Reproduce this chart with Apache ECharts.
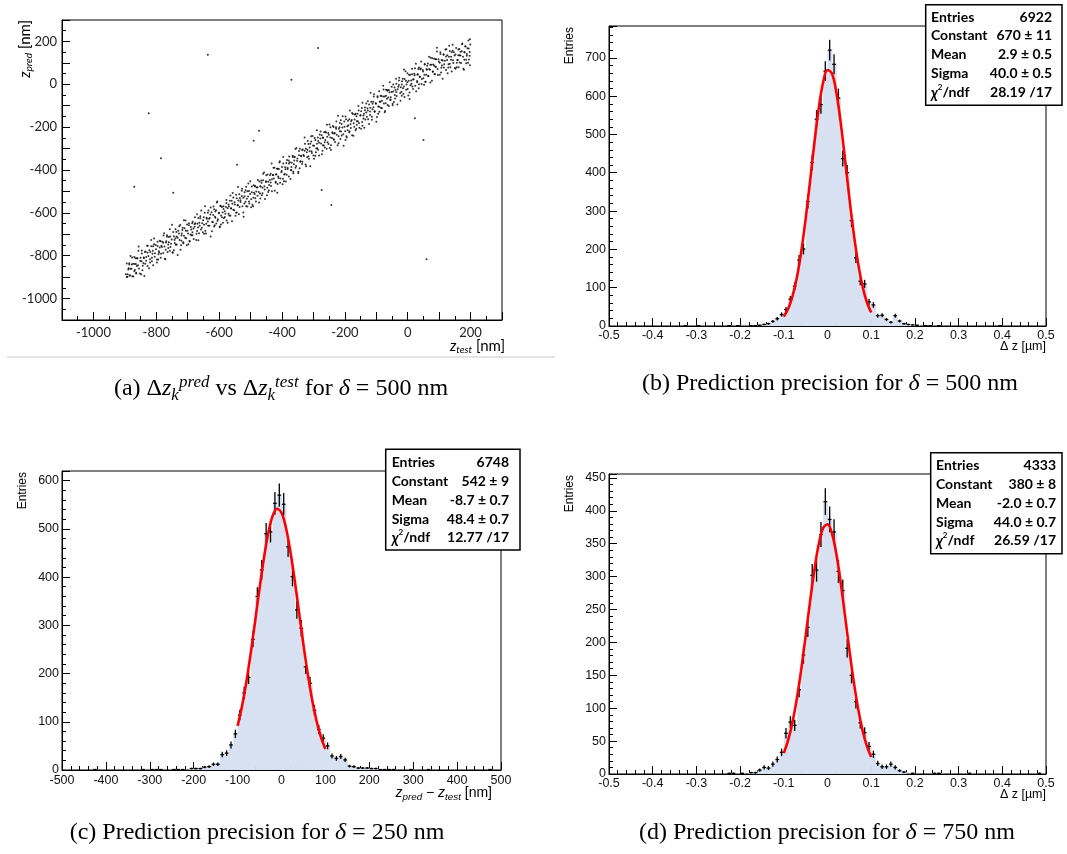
<!DOCTYPE html>
<html><head><meta charset="utf-8">
<script src="https://cdn.jsdelivr.net/npm/echarts@6/dist/echarts.min.js"></script>
<style>html,body{margin:0;padding:0;background:#fff}#c{width:1067px;height:854px}</style>
</head><body><div id="c"></div>
<script>
// ---------------- DATA ----------------
// (a) scatter: z_test [nm], z_pred [nm]
const scatterPts = [
[-894,-898],[-891,-887],[-889,-864],[-886,-835],[-885,-893],[-882,-861],[-878,-841],[-877,-808],
[-873,-897],[-870,-873],[-869,-839],[-866,-812],[-864,-883],[-862,-848],[-860,-813],[-857,-777],
[-855,-860],[-851,-825],[-848,-887],[-846,-790],[-844,-868],[-841,-835],[-839,-812],[-836,-783],
[-835,-838],[-832,-806],[-828,-786],[-827,-753],[-823,-859],[-820,-817],[-819,-783],[-816,-756],
[-814,-826],[-812,-791],[-810,-756],[-807,-720],[-805,-805],[-801,-770],[-798,-832],[-796,-735],
[-794,-818],[-791,-785],[-789,-762],[-786,-733],[-785,-791],[-782,-759],[-778,-739],[-777,-706],
[-773,-814],[-770,-772],[-769,-738],[-766,-711],[-764,-783],[-762,-748],[-760,-713],[-757,-677],
[-755,-759],[-751,-724],[-748,-786],[-746,-689],[-744,-774],[-741,-741],[-739,-718],[-736,-689],
[-735,-748],[-732,-716],[-728,-696],[-727,-663],[-723,-772],[-720,-730],[-719,-696],[-716,-669],
[-714,-742],[-712,-707],[-710,-672],[-707,-636],[-705,-719],[-701,-684],[-698,-746],[-696,-649],
[-694,-734],[-691,-701],[-689,-678],[-686,-649],[-685,-705],[-682,-673],[-678,-653],[-677,-620],
[-673,-727],[-670,-685],[-669,-651],[-666,-624],[-664,-695],[-662,-660],[-660,-625],[-657,-589],
[-655,-670],[-651,-635],[-648,-697],[-646,-600],[-644,-684],[-641,-651],[-639,-628],[-636,-599],
[-635,-660],[-632,-628],[-628,-608],[-627,-575],[-623,-686],[-620,-644],[-619,-610],[-616,-583],
[-614,-658],[-612,-623],[-610,-588],[-607,-552],[-605,-637],[-601,-602],[-598,-664],[-596,-567],
[-594,-654],[-591,-621],[-589,-598],[-586,-569],[-585,-625],[-582,-593],[-578,-573],[-577,-540],
[-573,-646],[-570,-604],[-569,-570],[-566,-543],[-564,-613],[-562,-578],[-560,-543],[-557,-507],
[-555,-586],[-551,-551],[-548,-613],[-546,-516],[-544,-598],[-541,-565],[-539,-542],[-536,-513],
[-535,-573],[-532,-541],[-528,-521],[-527,-488],[-523,-598],[-520,-556],[-519,-522],[-516,-495],
[-514,-569],[-512,-534],[-510,-499],[-507,-463],[-505,-547],[-501,-512],[-498,-574],[-496,-477],
[-494,-562],[-491,-529],[-489,-506],[-486,-477],[-485,-532],[-482,-500],[-478,-480],[-477,-447],
[-473,-552],[-470,-510],[-469,-476],[-466,-449],[-464,-518],[-462,-483],[-460,-448],[-457,-412],
[-455,-491],[-451,-456],[-448,-518],[-446,-421],[-444,-503],[-441,-470],[-439,-447],[-436,-418],
[-435,-475],[-432,-443],[-428,-423],[-427,-390],[-423,-497],[-420,-455],[-419,-421],[-416,-394],
[-414,-465],[-412,-430],[-410,-395],[-407,-359],[-405,-440],[-401,-405],[-398,-467],[-396,-370],
[-394,-452],[-391,-419],[-389,-396],[-386,-367],[-385,-422],[-382,-390],[-378,-370],[-377,-337],
[-373,-442],[-370,-400],[-369,-366],[-366,-339],[-364,-408],[-362,-373],[-360,-338],[-357,-302],
[-355,-381],[-351,-346],[-348,-408],[-346,-311],[-344,-392],[-341,-359],[-339,-336],[-336,-307],
[-335,-362],[-332,-330],[-328,-310],[-327,-277],[-323,-382],[-320,-340],[-319,-306],[-316,-279],
[-314,-348],[-312,-313],[-310,-278],[-307,-242],[-305,-321],[-301,-286],[-298,-348],[-296,-251],
[-294,-333],[-291,-300],[-289,-277],[-286,-248],[-285,-305],[-282,-273],[-278,-253],[-277,-220],
[-273,-327],[-270,-285],[-269,-251],[-266,-224],[-264,-295],[-262,-260],[-260,-225],[-257,-189],
[-255,-270],[-251,-235],[-248,-297],[-246,-200],[-244,-284],[-241,-251],[-239,-228],[-236,-199],
[-235,-259],[-232,-227],[-228,-207],[-227,-174],[-223,-284],[-220,-242],[-219,-208],[-216,-181],
[-214,-255],[-212,-220],[-210,-185],[-207,-149],[-205,-233],[-201,-198],[-198,-260],[-196,-163],
[-194,-248],[-191,-215],[-189,-192],[-186,-163],[-185,-219],[-182,-187],[-178,-167],[-177,-134],
[-173,-240],[-170,-198],[-169,-164],[-166,-137],[-164,-207],[-162,-172],[-160,-137],[-157,-101],
[-155,-181],[-151,-146],[-148,-208],[-146,-111],[-144,-193],[-141,-160],[-139,-137],[-136,-108],
[-135,-164],[-132,-132],[-128,-112],[-127,-79],[-123,-185],[-120,-143],[-119,-109],[-116,-82],
[-114,-152],[-112,-117],[-110,-82],[-107,-46],[-105,-126],[-101,-91],[-98,-153],[-96,-56],
[-94,-138],[-91,-105],[-89,-82],[-86,-53],[-85,-109],[-82,-77],[-78,-57],[-77,-24],
[-73,-130],[-70,-88],[-69,-54],[-66,-27],[-64,-97],[-62,-62],[-60,-27],[-57,9],
[-55,-71],[-51,-36],[-48,-98],[-46,-1],[-44,-83],[-41,-50],[-39,-27],[-36,2],
[-35,-55],[-32,-23],[-28,-3],[-27,30],[-23,-77],[-20,-35],[-19,-1],[-16,26],
[-14,-45],[-12,-10],[-10,25],[-7,61],[-5,-25],[-1,10],[2,-52],[4,45],
[6,-38],[9,-5],[11,18],[14,47],[15,-10],[18,22],[22,42],[23,75],
[27,-32],[30,10],[31,44],[34,71],[36,0],[38,35],[40,70],[43,106],
[45,25],[49,60],[52,-2],[54,95],[56,12],[59,45],[61,68],[64,97],
[65,39],[68,71],[72,91],[73,124],[77,16],[80,58],[81,92],[84,119],
[86,47],[88,82],[90,117],[93,153],[95,71],[99,106],[102,44],[104,141],
[106,55],[109,88],[111,111],[114,140],[115,78],[118,110],[122,130],[123,163],
[127,52],[130,94],[131,128],[134,155],[136,79],[138,114],[140,149],[143,185],
[145,99],[149,134],[152,72],[154,169],[156,80],[159,113],[161,136],[164,165],
[165,102],[168,134],[172,154],[173,187],[177,73],[180,115],[181,149],[184,176],
[186,98],[188,133],[190,168],[193,204],[195,116],[197,151],[198,89],[199,186]
];
const scatterPts2 = [
[-897,-886],[-894,-836],[-892,-899],[-888,-858],[-886,-841],[-883,-891],[-882,-801],[-879,-861],
[-876,-896],[-874,-837],[-870,-806],[-868,-867],[-865,-839],[-864,-880],[-861,-811],[-858,-844],
[-856,-757],[-852,-883],[-850,-809],[-847,-826],[-846,-776],[-843,-847],[-840,-808],[-838,-895],
[-834,-780],[-832,-824],[-829,-753],[-828,-848],[-825,-801],[-822,-775],[-820,-832],[-816,-727],
[-814,-810],[-811,-777],[-810,-845],[-807,-746],[-804,-788],[-802,-750],[-798,-818],[-796,-755],
[-793,-793],[-792,-779],[-789,-730],[-786,-810],[-784,-754],[-780,-735],[-778,-787],[-775,-695],
[-774,-757],[-771,-816],[-768,-733],[-766,-704],[-762,-764],[-760,-737],[-757,-777],[-756,-710],
[-753,-744],[-750,-656],[-748,-784],[-744,-709],[-742,-727],[-739,-676],[-738,-749],[-735,-710],
[-732,-797],[-730,-684],[-726,-727],[-724,-657],[-721,-751],[-720,-706],[-717,-680],[-714,-737],
[-712,-634],[-708,-716],[-706,-684],[-703,-751],[-702,-654],[-699,-696],[-696,-658],[-694,-731],
[-690,-666],[-688,-705],[-685,-690],[-684,-642],[-681,-722],[-678,-665],[-676,-648],[-672,-698],
[-670,-607],[-667,-668],[-666,-728],[-663,-646],[-660,-616],[-658,-678],[-654,-649],[-652,-690],
[-649,-621],[-648,-656],[-645,-569],[-642,-696],[-640,-623],[-636,-640],[-634,-589],[-631,-660],
[-630,-624],[-627,-710],[-624,-597],[-622,-641],[-618,-570],[-616,-664],[-613,-618],[-612,-594],
[-609,-650],[-606,-547],[-604,-630],[-600,-600],[-598,-667],[-595,-568],[-594,-612],[-591,-573],
[-588,-646],[-586,-582],[-582,-619],[-580,-604],[-577,-554],[-576,-636],[-573,-579],[-570,-561],
[-568,-612],[-564,-519],[-562,-580],[-559,-639],[-558,-558],[-555,-528],[-552,-588],[-550,-561],
[-546,-599],[-544,-532],[-541,-565],[-540,-479],[-537,-606],[-534,-531],[-532,-549],[-528,-497],
[-526,-569],[-523,-530],[-522,-618],[-519,-504],[-516,-548],[-514,-478],[-510,-570],[-508,-524],
[-505,-498],[-504,-556],[-501,-453],[-498,-536],[-496,-504],[-492,-569],[-490,-471],[-487,-512],
[-486,-475],[-483,-547],[-480,-482],[-478,-520],[-474,-503],[-472,-454],[-469,-533],[-468,-477],
[-465,-459],[-462,-509],[-460,-418],[-456,-476],[-454,-535],[-451,-452],[-450,-424],[-447,-483],
[-444,-455],[-442,-495],[-438,-424],[-436,-458],[-433,-370],[-432,-499],[-429,-423],[-426,-440],
[-424,-389],[-420,-459],[-418,-420],[-415,-506],[-414,-394],[-411,-437],[-408,-365],[-406,-459],
[-402,-411],[-400,-386],[-397,-441],[-396,-339],[-393,-421],[-390,-387],[-388,-454],[-384,-353],
[-382,-395],[-379,-356],[-378,-430],[-375,-364],[-372,-401],[-370,-386],[-366,-334],[-364,-415],
[-361,-356],[-360,-340],[-357,-389],[-354,-297],[-352,-357],[-348,-414],[-346,-331],[-343,-301],
[-342,-362],[-339,-334],[-336,-372],[-334,-304],[-330,-335],[-328,-248],[-325,-374],[-324,-301],
[-321,-317],[-318,-265],[-316,-336],[-312,-295],[-310,-382],[-307,-267],[-306,-312],[-303,-241],
[-300,-332],[-298,-287],[-294,-260],[-292,-317],[-289,-214],[-288,-298],[-285,-265],[-282,-332],
[-280,-234],[-276,-276],[-274,-238],[-271,-310],[-270,-248],[-267,-286],[-264,-270],[-262,-222],
[-258,-301],[-256,-245],[-253,-227],[-252,-279],[-249,-188],[-246,-248],[-244,-307],[-240,-224],
[-238,-195],[-235,-256],[-234,-230],[-231,-269],[-228,-201],[-226,-235],[-222,-147],[-220,-275],
[-217,-200],[-216,-219],[-213,-168],[-210,-239],[-208,-202],[-204,-287],[-202,-174],[-199,-219],
[-198,-150],[-195,-243],[-192,-196],[-190,-170],[-186,-225],[-184,-122],[-181,-204],[-180,-173],
[-177,-238],[-174,-139],[-172,-182],[-168,-141],[-166,-214],[-163,-149],[-162,-189],[-159,-172],
[-156,-122],[-154,-203],[-150,-144],[-148,-126],[-145,-176],[-144,-86],[-141,-146],[-138,-203],
[-136,-121],[-132,-90],[-130,-151],[-127,-122],[-126,-163],[-123,-94],[-120,-127],[-118,-39],
[-114,-165],[-112,-91],[-109,-107],[-108,-57],[-105,-128],[-102,-89],[-100,-175],[-96,-60],
[-94,-104],[-91,-33],[-90,-128],[-87,-81],[-84,-55],[-82,-112],[-78,-7],[-76,-90],
[-73,-57],[-72,-125],[-69,-26],[-66,-68],[-64,-30],[-60,-101],[-58,-37],[-55,-75],
[-54,-61],[-51,-11],[-48,-91],[-46,-34],[-42,-15],[-40,-66],[-37,26],[-36,-36],
[-33,-94],[-30,-11],[-28,18],[-24,-41],[-22,-14],[-19,-53],[-18,14],[-15,-19],
[-12,69],[-10,-59],[-6,17],[-4,-1],[-1,51],[0,-22],[3,17],[6,-69],
[8,44],[12,2],[14,72],[17,-22],[18,23],[21,49],[24,-7],[26,96],
[30,15],[32,47],[35,-19],[36,78],[39,35],[42,74],[44,1],[48,67],
[50,28],[53,44],[54,92],[57,12],[60,70],[62,86],[66,37],[68,128],
[71,68],[72,8],[75,91],[78,121],[80,60],[84,88],[86,48],[89,117],
[90,82],[93,170],[96,43],[98,117],[102,100],[104,150],[107,77],[108,113],
[111,26],[114,138],[116,93],[120,162],[122,67],[125,113],[126,136],[129,78],
[132,180],[134,96],[138,128],[140,60],[143,157],[144,112],[147,150],[150,76],
[152,139],[156,100],[158,113],[161,162],[162,79],[165,135],[168,152],[170,99],
[174,190],[176,128],[179,68],[180,149],[183,177],[186,115],[188,141],[192,101],
[194,167],[197,133],[198,210]
];
const scatterOutliers = [[-636,138],[-285,169],[-370,21],[-824,-135],[-785,-345],[-870,-478],[-746,-506],
[-243,-563],[60,-817],[50,-260],[23,-158],[-473,-217],[-490,-263],[-543,-376],[-274,-493]];

// (b) delta = 500 nm, 100 bins in [-0.5, 0.5] um
const countsB = [
0,0,0,0,0,0,0,0,0,0,
0,0,0,0,0,0,0,1,0,0,
1,0,0,0,0,0,0,1,0,1,
0,0,1,1,2,4,6,12,19,30,
43,70,104,172,201,325,427,540,578,665,
720,683,595,437,400,275,178,117,110,63,
55,27,28,17,10,27,13,6,4,3,
2,0,1,1,0,1,0,0,0,0,
0,0,0,0,0,0,0,0,0,1,
0,0,0,0,0,0,0,0,0,0];
// (c) delta = 250 nm, 100 bins in [-500, 500] nm
const countsC = [
0,0,0,0,0,0,0,1,0,0,
0,0,0,0,0,0,0,0,1,0,
1,1,1,0,0,1,1,1,0,3,
3,3,6,7,12,12,32,35,52,75,
114,160,192,271,360,415,490,494,553,570,
551,463,401,332,294,214,180,124,84,66,
50,29,24,28,21,8,7,4,4,4,
3,3,1,1,1,1,0,0,0,1,
0,0,0,1,0,0,0,0,0,0,
0,0,0,0,0,0,0,1,0,0];
// (d) delta = 750 nm, 100 bins in [-0.5, 0.5] um
const countsD = [
0,0,0,0,0,0,0,0,0,0,
0,0,0,0,0,0,0,0,0,0,
0,0,0,0,0,0,0,1,1,0,
1,0,2,2,6,10,9,15,22,33,
62,79,74,128,181,223,302,310,364,414,
387,368,308,279,191,150,110,78,63,42,
30,16,11,11,15,10,5,3,0,1,
0,0,0,0,1,1,0,0,0,0,
0,0,1,0,0,0,0,0,0,0,
0,0,0,0,0,0,0,0,1,0];

// Gaussian fit curves (red)
const fitXum = [-0.10,-0.09,-0.08,-0.07,-0.06,-0.05,-0.04,-0.03,-0.02,-0.01,0,0.01,0.02,0.03,0.04,0.05,0.06,0.07,0.08,0.09,0.10];
const fitYb = [24.5,45.2,78.2,127.3,194.6,279.5,377,477.7,568.7,636,668.2,659.5,611.5,532.6,435.8,334.9,241.9,164.1,104.5,62.6,35.2];
const fitXnm = [-100,-90,-80,-70,-60,-50,-40,-30,-20,-10,0,10,20,30,40,50,60,70,80,90,100];
const fitYc = [91.5,132.2,183.1,243.0,309.0,376.6,439.7,492.0,527.4,541.8,533.3,503.0,454.6,393.7,326.7,259.8,197.9,144.5,101.1,67.8,43.5];
const fitYd = [31.8,51.4,79.0,115.1,159.4,209.6,261.7,310.3,349.5,373.8,379.6,366.1,335.4,291.7,241.0,189.0,140.8,99.6,66.9,42.7,25.9];

// stats boxes
const statLabels = ['Entries','Constant','Mean','Sigma','χ2/ndf'];
const statsB = ['6922','670 ± 11','2.9 ± 0.5','40.0 ± 0.5','28.19 /17'];
const statsC = ['6748','542 ± 9','-8.7 ± 0.7','48.4 ± 0.7','12.77 /17'];
const statsD = ['4333','380 ± 8','-2.0 ± 0.7','44.0 ± 0.7','26.59 /17'];

// ---------------- CHART ----------------
const SANS = '"Liberation Sans", Arial, sans-serif';
const CAL = 'Lato, "Open Sans", sans-serif';
const SERIF = '"Liberation Serif", "Times New Roman", serif';

const chart = echarts.init(document.getElementById('c'), null, {renderer: 'canvas'});

function axis(gi, o, lab) {
  return Object.assign({
    gridIndex: gi, type: 'value',
    axisLine: {show: true, onZero: false, lineStyle: {color: '#000', width: 1}},
    axisTick: {show: true, inside: true, length: 8, lineStyle: {color: '#000', width: 1}},
    minorTick: {show: true, splitNumber: 5, length: 4, lineStyle: {color: '#000', width: 1}},
    splitLine: {show: false}, minorSplitLine: {show: false},
    axisLabel: Object.assign({color: '#111', fontFamily: SANS, fontSize: 12.5, margin: 3}, lab)
  }, o);
}
const fmt1 = v => Math.abs(v) < 1e-9 ? '0' : v.toFixed(1);
const fmtA = v => (Math.round(v) % 200 === 0) ? String(Math.round(v)) : '';

function histData(counts, lo, w) { return counts.map((v, i) => [lo + (i + 0.5) * w, v]); }
function histFill(gi, counts, lo, w) {
  return {
    type: 'custom', xAxisIndex: gi, yAxisIndex: gi, silent: true, z: 1,
    data: histData(counts, lo, w), encode: {x: 0, y: 1},
    renderItem(p, api) {
      const c = api.value(0), v = api.value(1);
      if (!v) return null;
      const a = api.coord([c - w / 2, v]), b = api.coord([c + w / 2, 0]);
      return {type: 'rect', shape: {x: a[0], y: a[1], width: b[0] - a[0] + 0.6, height: b[1] - a[1]},
        style: {fill: '#d8e1f1'}};
    }
  };
}
function histErr(gi, counts, lo, w) {
  return {
    type: 'custom', xAxisIndex: gi, yAxisIndex: gi, silent: true, z: 3,
    data: histData(counts, lo, w), encode: {x: 0, y: 1},
    renderItem(p, api) {
      const c = api.value(0), v = api.value(1);
      if (!v) return null;
      const e = Math.sqrt(v);
      const l = api.coord([c - w * 0.42, v]), r = api.coord([c + w * 0.42, v]);
      const t = api.coord([c, v + e]), b = api.coord([c, Math.max(v - e, 0)]);
      const st = {stroke: '#000', lineWidth: 1.3};
      return {type: 'group', children: [
        {type: 'line', shape: {x1: l[0], y1: l[1], x2: r[0], y2: r[1]}, style: st},
        {type: 'line', shape: {x1: t[0], y1: t[1], x2: b[0], y2: b[1]}, style: st}
      ]};
    }
  };
}
function fitLine(gi, xs, ys) {
  return {type: 'line', xAxisIndex: gi, yAxisIndex: gi, z: 5, silent: true, smooth: 0.35, showSymbol: false,
    data: xs.map((x, i) => [x, ys[i]]), lineStyle: {color: '#ff0000', width: 2.6}};
}

function txt(x, y, text, font, align, vAlign, extra) {
  return Object.assign({type: 'text', x: x, y: y, z: 50, silent: true,
    style: {text: text, font: font, fill: '#000', align: align, textAlign: align,
      verticalAlign: vAlign, textVerticalAlign: vAlign}}, extra || {});
}
function richTxt(x, y, text, rich, align, rotation) {
  const el = {type: 'text', x: x, y: y, z: 50, silent: true,
    style: {text: text, rich: rich, fill: '#000', align: align, textAlign: align,
      verticalAlign: 'middle', textVerticalAlign: 'middle'}};
  if (rotation) el.rotation = rotation;
  return el;
}
function statsBox(x0, y0, x1, y1, labX, valX, rowsY, vals) {
  const els = [{type: 'rect', z: 40, silent: true, shape: {x: x0, y: y0, width: x1 - x0, height: y1 - y0},
    style: {fill: '#fff', stroke: '#000', lineWidth: 1.5}}];
  const F = 'bold 14px ' + CAL;
  statLabels.forEach((lab, i) => {
    if (lab === 'χ2/ndf') {
      els.push(richTxt(labX, rowsY[i], '{c|χ}{s|2}{b|/ndf}', {
        c: {fontFamily: CAL, fontWeight: 'bold', fontStyle: 'italic', fontSize: 15, lineHeight: 18},
        s: {fontFamily: CAL, fontWeight: 'bold', fontSize: 8, lineHeight: 10, verticalAlign: 'top'},
        b: {fontFamily: CAL, fontWeight: 'bold', fontSize: 14, lineHeight: 18}}, 'left'));
    } else {
      els.push(txt(labX, rowsY[i], lab, F, 'left', 'middle'));
    }
    els.push(txt(valX, rowsY[i], vals[i], F, 'right', 'middle'));
  });
  return els;
}

const capRich = {
  n: {fontFamily: SERIF, fontSize: 24, lineHeight: 30, color: '#000'},
  i: {fontFamily: SERIF, fontSize: 24, fontStyle: 'italic', lineHeight: 30, color: '#000'},
  sb: {fontFamily: SERIF, fontSize: 17, fontStyle: 'italic', lineHeight: 19, verticalAlign: 'bottom', color: '#000'},
  sp: {fontFamily: SERIF, fontSize: 17, fontStyle: 'italic', lineHeight: 13, verticalAlign: 'top', color: '#000'}
};
const sansRich = (sz) => ({
  i: {fontFamily: SANS, fontSize: sz, fontStyle: 'italic', lineHeight: 18, color: '#111'},
  s: {fontFamily: SANS, fontSize: sz * 0.7, fontStyle: 'italic', lineHeight: 10, verticalAlign: 'bottom', color: '#111'},
  n: {fontFamily: SANS, fontSize: sz, lineHeight: 18, color: '#111'}
});
const calRich = {
  i: {fontFamily: CAL, fontSize: 15, fontStyle: 'italic', lineHeight: 18, color: '#111'},
  s: {fontFamily: CAL, fontSize: 10, fontStyle: 'italic', lineHeight: 10, verticalAlign: 'bottom', color: '#111'},
  n: {fontFamily: CAL, fontSize: 15, lineHeight: 18, color: '#111'}
};

const gridBase = {show: true, borderColor: '#000', borderWidth: 1, backgroundColor: 'transparent', containLabel: false};

const option = {
  animation: false,
  backgroundColor: '#fff',
  grid: [
    Object.assign({left: 62, top: 20, width: 440, height: 300}, gridBase),
    Object.assign({left: 609, top: 26, width: 437, height: 300}, gridBase),
    Object.assign({left: 62, top: 471, width: 439, height: 299}, gridBase),
    Object.assign({left: 609, top: 474, width: 437, height: 300}, gridBase)
  ],
  xAxis: [
    axis(0, {min: -1100, max: 300, interval: 100, minorTick: {show: true, splitNumber: 2, length: 4, lineStyle: {color: '#000'}}},
      {formatter: fmtA, fontFamily: CAL, fontSize: 13, margin: 6, color: '#222'}),
    axis(1, {min: -0.5, max: 0.5, interval: 0.1}, {formatter: fmt1, margin: 3}),
    axis(2, {min: -500, max: 500, interval: 100}, {margin: 4}),
    axis(3, {min: -0.5, max: 0.5, interval: 0.1}, {formatter: fmt1, margin: 3})
  ],
  yAxis: [
    axis(0, {min: -1100, max: 300, interval: 100, minorTick: {show: true, splitNumber: 2, length: 4, lineStyle: {color: '#000'}}},
      {formatter: fmtA, fontFamily: CAL, fontSize: 13, margin: 5, color: '#222'}),
    axis(1, {min: 0, max: 783, interval: 100}, {showMaxLabel: false, margin: 3}),
    axis(2, {min: 0, max: 620, interval: 100}, {showMaxLabel: false, margin: 3}),
    axis(3, {min: 0, max: 456, interval: 50}, {showMaxLabel: false, margin: 3})
  ],
  series: [
    {type: 'scatter', xAxisIndex: 0, yAxisIndex: 0, silent: true, symbolSize: 2,
      data: scatterPts.concat(scatterPts2, scatterOutliers), itemStyle: {color: '#000'}},
    histFill(1, countsB, -0.5, 0.01), histErr(1, countsB, -0.5, 0.01), fitLine(1, fitXum, fitYb),
    histFill(2, countsC, -500, 10), histErr(2, countsC, -500, 10), fitLine(2, fitXnm, fitYc),
    histFill(3, countsD, -0.5, 0.01), histErr(3, countsD, -0.5, 0.01), fitLine(3, fitXum, fitYd)
  ],
  graphic: [].concat(
    [{type: 'line', silent: true, shape: {x1: 7, y1: 357, x2: 555, y2: 357}, style: {stroke: '#c8c8c8', lineWidth: 1}}],
    // axis titles
    [richTxt(25, 20, '{i|z}{s|pred}{n| [nm]}', calRich, 'right', Math.PI / 2),
     richTxt(505, 346, '{i|z}{s|test}{n| [nm]}', calRich, 'right'),
     txt(570, 27, 'Entries', '12px ' + SANS, 'right', 'middle', {rotation: Math.PI / 2}),
     txt(1046, 347, 'Δ z [µm]', '12.5px ' + SANS, 'right', 'middle'),
     txt(23, 472, 'Entries', '12px ' + SANS, 'right', 'middle', {rotation: Math.PI / 2}),
     richTxt(492, 793, '{i|z}{s|pred}{n| − }{i|z}{s|test}{n| [nm]}', sansRich(14), 'right'),
     txt(570, 475, 'Entries', '12px ' + SANS, 'right', 'middle', {rotation: Math.PI / 2}),
     txt(1046, 795, 'Δ z [µm]', '12.5px ' + SANS, 'right', 'middle')],
    // stats boxes
    statsBox(925.7, 4.7, 1062, 105.3, 931, 1052, [17.3, 35.7, 54.7, 73.7, 92.7], statsB),
    statsBox(385.7, 449.3, 520, 550, 391.7, 509, [462, 481, 500.3, 519, 537.7], statsC),
    statsBox(930.7, 452.7, 1062, 553.7, 936, 1056, [465, 484, 503, 522, 540.7], statsD),
    // captions
    [richTxt(281, 389, '{n|(a) Δ}{i|z}{sb|k}{sp|pred}{n| vs Δ}{i|z}{sb|k}{sp|test}{n| for }{i|δ}{n| = 500 nm}', capRich, 'center'),
     richTxt(830, 384, '{n|(b) Prediction precision for }{i|δ}{n| = 500 nm}', capRich, 'center'),
     richTxt(257, 833, '{n|(c) Prediction precision for }{i|δ}{n| = 250 nm}', capRich, 'center'),
     richTxt(827, 833, '{n|(d) Prediction precision for }{i|δ}{n| = 750 nm}', capRich, 'center')]
  )
};
chart.setOption(option);
</script></body></html>
